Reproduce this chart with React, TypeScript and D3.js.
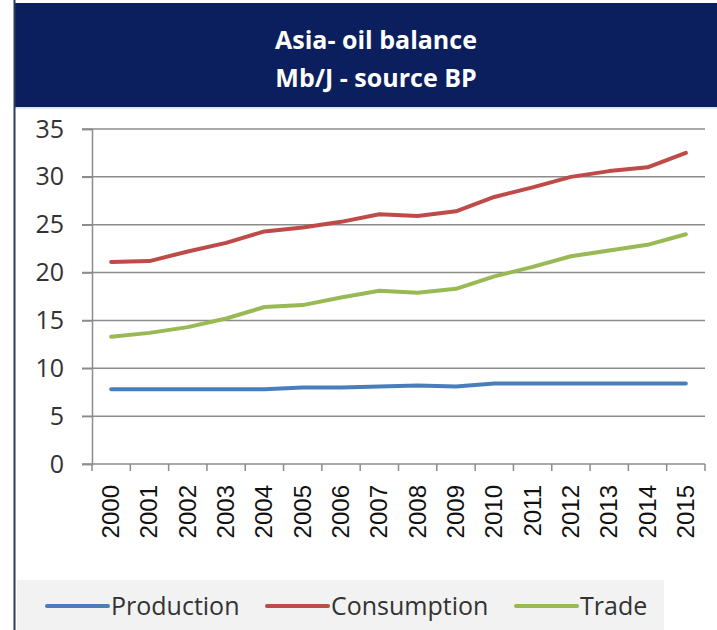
import React, { useEffect, useRef } from "react";
import * as d3 from "d3";

// data (Mb/J, source BP)
const years = ["2000", "2001", "2002", "2003", "2004", "2005", "2006", "2007", "2008", "2009", "2010", "2011", "2012", "2013", "2014", "2015"];
const production = [7.8, 7.8, 7.8, 7.8, 7.8, 8.0, 8.0, 8.1, 8.2, 8.1, 8.4, 8.4, 8.4, 8.4, 8.4, 8.4];
const consumption = [21.1, 21.2, 22.2, 23.1, 24.3, 24.7, 25.3, 26.1, 25.9, 26.4, 27.9, 28.9, 30.0, 30.6, 31.0, 32.5];
const trade = [13.3, 13.7, 14.3, 15.2, 16.4, 16.6, 17.4, 18.1, 17.9, 18.3, 19.6, 20.6, 21.7, 22.3, 22.9, 24.0];
const yTicks = [0, 5, 10, 15, 20, 25, 30, 35];
const titleLines = ["Asia- oil balance", "Mb/J - source BP"];

const seriesList = [
    { name: "Production", values: production, color: "#4a7ebb" },
    { name: "Consumption", values: consumption, color: "#be4b48" },
    { name: "Trade", values: trade, color: "#98b954" },
];

const W = 717;
const H = 630;

export default function App() {
    const svgRef = useRef<SVGSVGElement | null>(null);

    useEffect(() => {
        if (!svgRef.current) return;
        const svg = d3.select(svgRef.current);
        svg.selectAll("*").remove();

        svg.append("rect").attr("width", W).attr("height", H).attr("fill", "#fff");

        // header band
        svg.append("rect")
            .attr("x", 14).attr("y", 3)
            .attr("width", W - 14).attr("height", 104)
            .attr("fill", "#0b1f5e");
        svg.append("line")
            .attr("x1", 14).attr("x2", W)
            .attr("y1", 108).attr("y2", 108)
            .attr("stroke", "#dce8f4").attr("stroke-width", 2);

        svg.selectAll(".title")
            .data(titleLines)
            .enter()
            .append("text")
            .attr("x", 376)
            .attr("y", (_, i) => 49 + i * 38)
            .attr("text-anchor", "middle")
            .attr("fill", "#fff")
            .attr("font-family", "'Open Sans', sans-serif")
            .attr("font-weight", 700)
            .attr("font-size", 25)
            .text((d) => d);

        // left frame line
        svg.append("line")
            .attr("x1", 14.5).attr("x2", 14.5)
            .attr("y1", 0).attr("y2", H)
            .attr("stroke", "#2b3a63").attr("stroke-width", 2);

        const x = d3.scaleBand<string>().domain(years).range([92, 705]);
        const y = d3.scaleLinear().domain([0, 35]).range([464, 129]);

        // gridlines
        svg.append("g")
            .selectAll("line")
            .data(yTicks)
            .enter()
            .append("line")
            .attr("x1", 82).attr("x2", 705)
            .attr("y1", (d) => y(d)).attr("y2", (d) => y(d))
            .attr("stroke", "#8c8c8c").attr("stroke-width", 1.5);

        // y axis
        const yAxis = svg.append("g")
            .attr("transform", "translate(92,0)")
            .call(d3.axisLeft(y).tickValues(yTicks).tickSize(10).tickPadding(18));
        yAxis.select(".domain").attr("stroke", "#8c8c8c").attr("stroke-width", 1.5);
        yAxis.selectAll(".tick line").attr("stroke", "#8c8c8c").attr("stroke-width", 1.5);
        yAxis.selectAll("text")
            .attr("font-family", "'Open Sans', sans-serif")
            .attr("font-size", 25)
            .attr("fill", "#333");

        // x axis: ticks between categories
        const bounds = years.map((yr) => x(yr) as number).concat([705]);
        svg.append("g")
            .selectAll("line")
            .data(bounds)
            .enter()
            .append("line")
            .attr("x1", (d) => d).attr("x2", (d) => d)
            .attr("y1", 464).attr("y2", 471)
            .attr("stroke", "#8c8c8c").attr("stroke-width", 1.5);

        svg.append("g")
            .selectAll("text")
            .data(years)
            .enter()
            .append("text")
            .attr("transform", (d) => `translate(${(x(d) as number) + x.bandwidth() / 2 + 8},485) rotate(-90)`)
            .attr("text-anchor", "end")
            .attr("font-family", "'Liberation Sans', Arial, sans-serif")
            .attr("font-size", 24)
            .attr("fill", "#111")
            .text((d) => d);

        // lines
        const lineGen = d3.line<number>()
            .x((_, i) => (x(years[i]) as number) + x.bandwidth() / 2)
            .y((d) => y(d));

        seriesList.forEach((s) => {
            svg.append("path")
                .datum(s.values)
                .attr("fill", "none")
                .attr("stroke", s.color)
                .attr("stroke-width", 4)
                .attr("stroke-linejoin", "round")
                .attr("stroke-linecap", "round")
                .attr("d", lineGen);
        });

        // legend
        svg.append("rect")
            .attr("x", 17).attr("y", 580)
            .attr("width", 647).attr("height", 50)
            .attr("fill", "#f2f2f2");

        const legendPos = [47, 267, 516];
        const lg = svg.append("g")
            .selectAll("g")
            .data(seriesList)
            .enter()
            .append("g")
            .attr("transform", (_, i) => `translate(${legendPos[i]},606)`);
        lg.append("line")
            .attr("x1", 0).attr("x2", 61)
            .attr("stroke", (d) => d.color)
            .attr("stroke-width", 4)
            .attr("stroke-linecap", "round");
        lg.append("text")
            .attr("x", 64)
            .attr("y", 9)
            .attr("font-family", "'Open Sans', sans-serif")
            .attr("font-size", 25)
            .attr("fill", "#333")
            .text((d) => d.name);
    }, []);

    return <svg ref={svgRef} width={W} height={H} style={{ position: "absolute", left: 0, top: 0 }} />;
}
